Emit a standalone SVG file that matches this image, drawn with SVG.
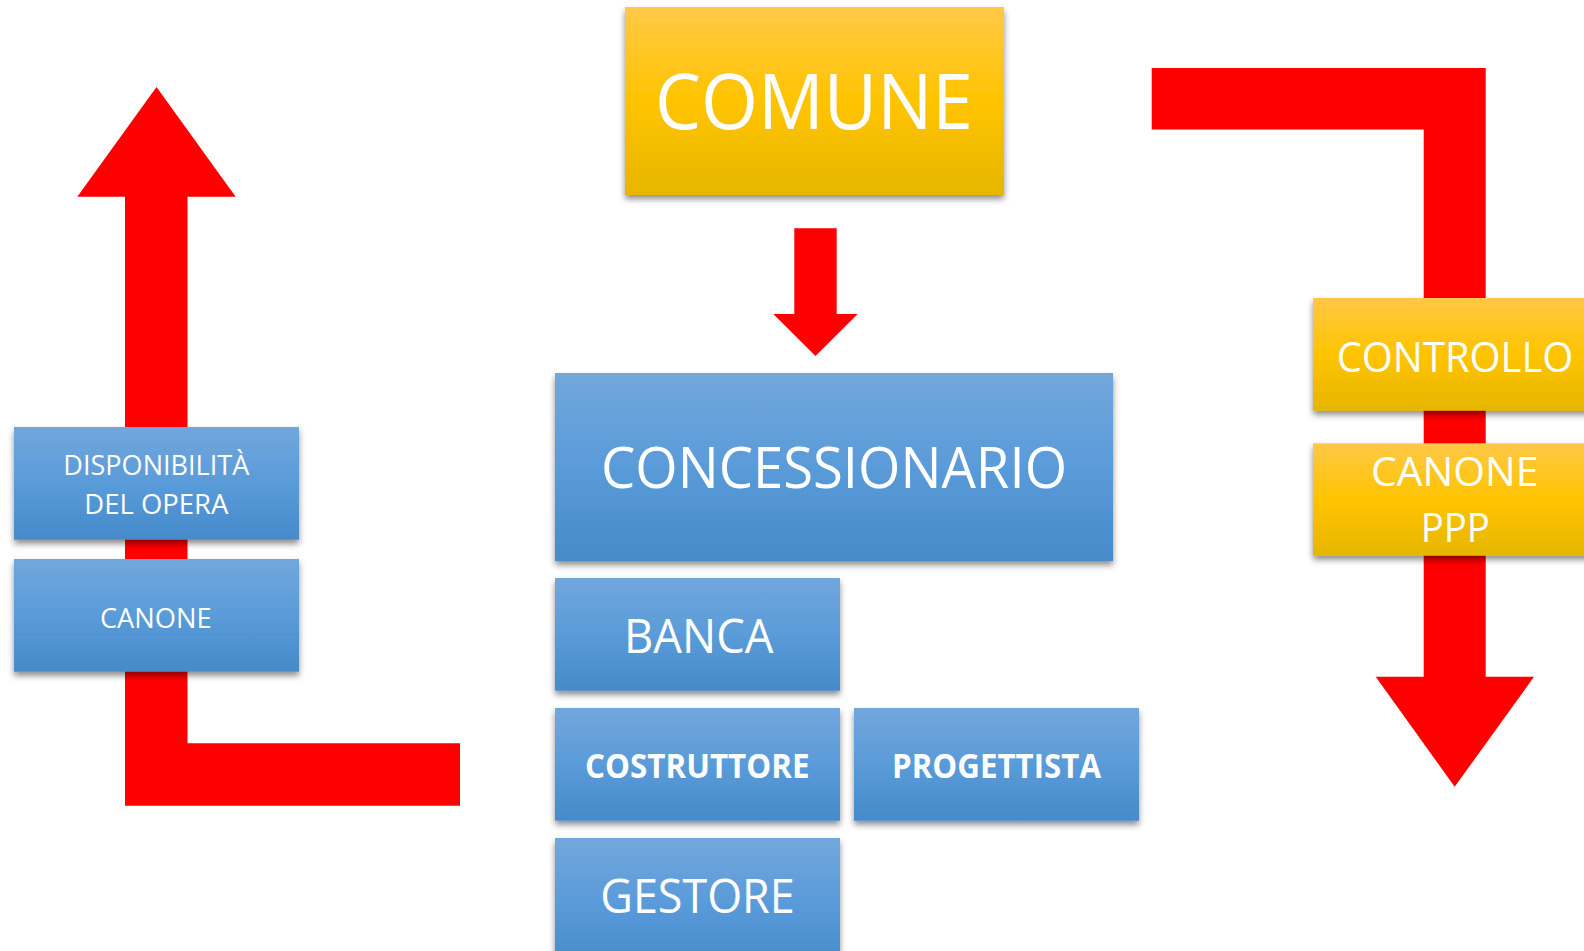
<svg xmlns="http://www.w3.org/2000/svg" width="1584" height="951" viewBox="0 0 1584 951">
  <defs>
    <linearGradient id="blue" x1="0" y1="0" x2="0" y2="1">
      <stop offset="0" stop-color="#72A7DC"/>
      <stop offset="0.5" stop-color="#5A9BD9"/>
      <stop offset="1" stop-color="#468ACA"/>
    </linearGradient>
    <linearGradient id="gold" x1="0" y1="0" x2="0" y2="1">
      <stop offset="0" stop-color="#FFC847"/>
      <stop offset="0.5" stop-color="#FFC400"/>
      <stop offset="1" stop-color="#E6B600"/>
    </linearGradient>
    <filter id="shadow" x="-10%" y="-10%" width="120%" height="130%">
      <feDropShadow dx="0" dy="4" stdDeviation="3" flood-color="#000" flood-opacity="0.45"/>
    </filter>
  </defs>
  <style>
    .arrow { fill: #FF0000; }
    .bbox { fill: url(#blue); filter: url(#shadow); }
    .gbox { fill: url(#gold); filter: url(#shadow); }
    .t { fill: #FFFFFF; font-family: "Open Sans", "Noto Sans", "Liberation Sans", sans-serif; text-anchor: middle; }
    .b { font-weight: bold; }
  </style>
  <rect width="1584" height="951" fill="#FFFFFF"/>

  <g id="connectors">
    <polygon class="arrow" points="156.5,87 235.7,196.7 187.5,196.7 187.5,743.3 460,743.3 460,805.7 125,805.7 125,196.7 77.3,196.7"/>
    <polygon class="arrow" points="1151.7,68 1485.7,68 1485.7,676.8 1534,676.8 1454.7,786.8 1375.7,676.8 1423.7,676.8 1423.7,129.4 1151.7,129.4"/>
    <polygon class="arrow" points="794.3,228.3 836.7,228.3 836.7,314 857.7,314 815.5,356 773.3,314 794.3,314"/>
  </g>

  <g id="comune">
    <rect class="gbox" x="625" y="7" width="379" height="188"/>
    <text class="t" x="814" y="129.3" font-size="76" textLength="318" lengthAdjust="spacingAndGlyphs">COMUNE</text>
  </g>

  <g id="concessionario">
    <rect class="bbox" x="555" y="373" width="558" height="188"/>
    <text class="t" x="834" y="488.3" font-size="57.5" textLength="466" lengthAdjust="spacingAndGlyphs">CONCESSIONARIO</text>
  </g>

  <g id="banca">
    <rect class="bbox" x="555" y="578" width="285" height="112.7"/>
    <text class="t" x="698.7" y="652.7" font-size="47" textLength="149.4" lengthAdjust="spacingAndGlyphs">BANCA</text>
  </g>

  <g id="costruttore">
    <rect class="bbox" x="555" y="708" width="285" height="112.7"/>
    <text class="t b" x="697.3" y="778.3" font-size="33.6" textLength="224.6" lengthAdjust="spacingAndGlyphs">COSTRUTTORE</text>
  </g>

  <g id="progettista">
    <rect class="bbox" x="854" y="708" width="285" height="112.7"/>
    <text class="t b" x="996.5" y="778.3" font-size="33.6" textLength="209" lengthAdjust="spacingAndGlyphs">PROGETTISTA</text>
  </g>

  <g id="gestore">
    <rect class="bbox" x="555" y="838" width="285" height="130"/>
    <text class="t" x="697.5" y="912.7" font-size="48" textLength="194.5" lengthAdjust="spacingAndGlyphs">GESTORE</text>
  </g>

  <g id="disponibilita">
    <rect class="bbox" x="14" y="427" width="285" height="112.7"/>
    <text class="t" x="156.3" y="475" font-size="27" textLength="186" lengthAdjust="spacingAndGlyphs">DISPONIBILITÀ</text>
    <text class="t" x="156.3" y="514" font-size="27" textLength="144" lengthAdjust="spacingAndGlyphs">DEL OPERA</text>
  </g>

  <g id="canone-left">
    <rect class="bbox" x="14" y="559" width="285" height="112.7"/>
    <text class="t" x="155.8" y="627.7" font-size="28" textLength="111.7" lengthAdjust="spacingAndGlyphs">CANONE</text>
  </g>

  <g id="controllo">
    <rect class="gbox" x="1313" y="298" width="285" height="112.7"/>
    <text class="t" x="1455" y="371.7" font-size="42" textLength="236.6" lengthAdjust="spacingAndGlyphs">CONTROLLO</text>
  </g>

  <g id="canone-ppp">
    <rect class="gbox" x="1313" y="443.3" width="285" height="112.4"/>
    <text class="t" x="1454.7" y="486" font-size="41" textLength="167.3" lengthAdjust="spacingAndGlyphs">CANONE</text>
    <text class="t" x="1455.3" y="542.3" font-size="41" textLength="69.3" lengthAdjust="spacingAndGlyphs">PPP</text>
  </g>
</svg>
